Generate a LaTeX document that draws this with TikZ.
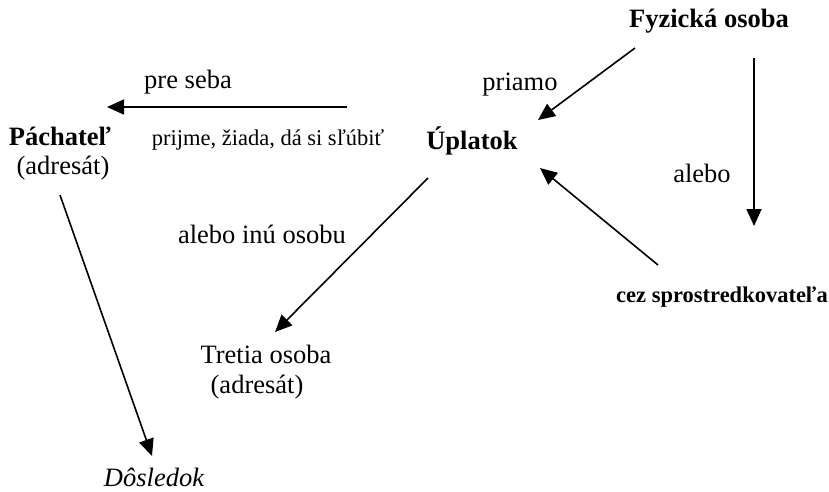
\documentclass[tikz,border=0pt]{standalone}
\usepackage{fontspec}
\setmainfont{Liberation Serif}
\usetikzlibrary{arrows.meta}
\tikzset{
  lbl/.style={anchor=base, inner sep=0pt, font=\fontsize{26.5}{30}\selectfont},
  blbl/.style={lbl, font=\fontsize{26.5}{30}\selectfont\bfseries},
  slbl/.style={anchor=base, inner sep=0pt, font=\fontsize{22.5}{26}\selectfont},
  sblbl/.style={anchor=base, inner sep=0pt, font=\fontsize{22.5}{26}\selectfont\bfseries},
  arr/.style={line width=1.6pt, -{Triangle[length=17pt,width=15pt]}}
}
\begin{document}
\begin{tikzpicture}[x=1pt,y=-1pt]
\useasboundingbox (0,0) rectangle (829,491);
% texts
\node[blbl] (fyz) at (709,27) {Fyzická osoba};
\node[lbl] (pre) at (188,88) {pre seba};
\node[lbl] (pri) at (520,90) {priamo};
\node[blbl] (pach) at (60,145) {Páchateľ};
\node[lbl] (adr1) at (63,174) {(adresát)};
\node[slbl] (prij) at (268,145) {prijme, žiada, dá si sľúbiť};
\node[blbl] (upl) at (472,149) {Úplatok};
\node[lbl] (alebo) at (702,182) {alebo};
\node[lbl] (ino) at (262,243) {alebo inú osobu};
\node[sblbl] (cez) at (722,302) {cez sprostredkovateľa};
\node[lbl] (tret) at (266,363) {Tretia osoba};
\node[lbl] (adr2) at (257,393) {(adresát)};
\node[lbl, font=\fontsize{26.5}{30}\selectfont\itshape] (dos) at (154,486) {Dôsledok};
% connector end points
\coordinate (preS) at (347,107);
\coordinate (preE) at (107,107);
\coordinate (fyzS) at (635,48);
\coordinate (uplA) at (538,120);
\coordinate (vS) at (754,58);
\coordinate (vE) at (754,226);
\coordinate (cezS) at (658,265);
\coordinate (uplB) at (540,168);
\coordinate (uplC) at (428,178);
\coordinate (tretE) at (275,332);
\coordinate (pachS) at (60,195);
\coordinate (dosE) at (152,456);
% connectors
\draw[arr] (preS) -- (preE);
\draw[arr] (fyzS) -- (uplA);
\draw[arr] (vS) -- (vE);
\draw[arr] (cezS) -- (uplB);
\draw[arr] (uplC) -- (tretE);
\draw[arr] (pachS) -- (dosE);
\end{tikzpicture}
\end{document}
